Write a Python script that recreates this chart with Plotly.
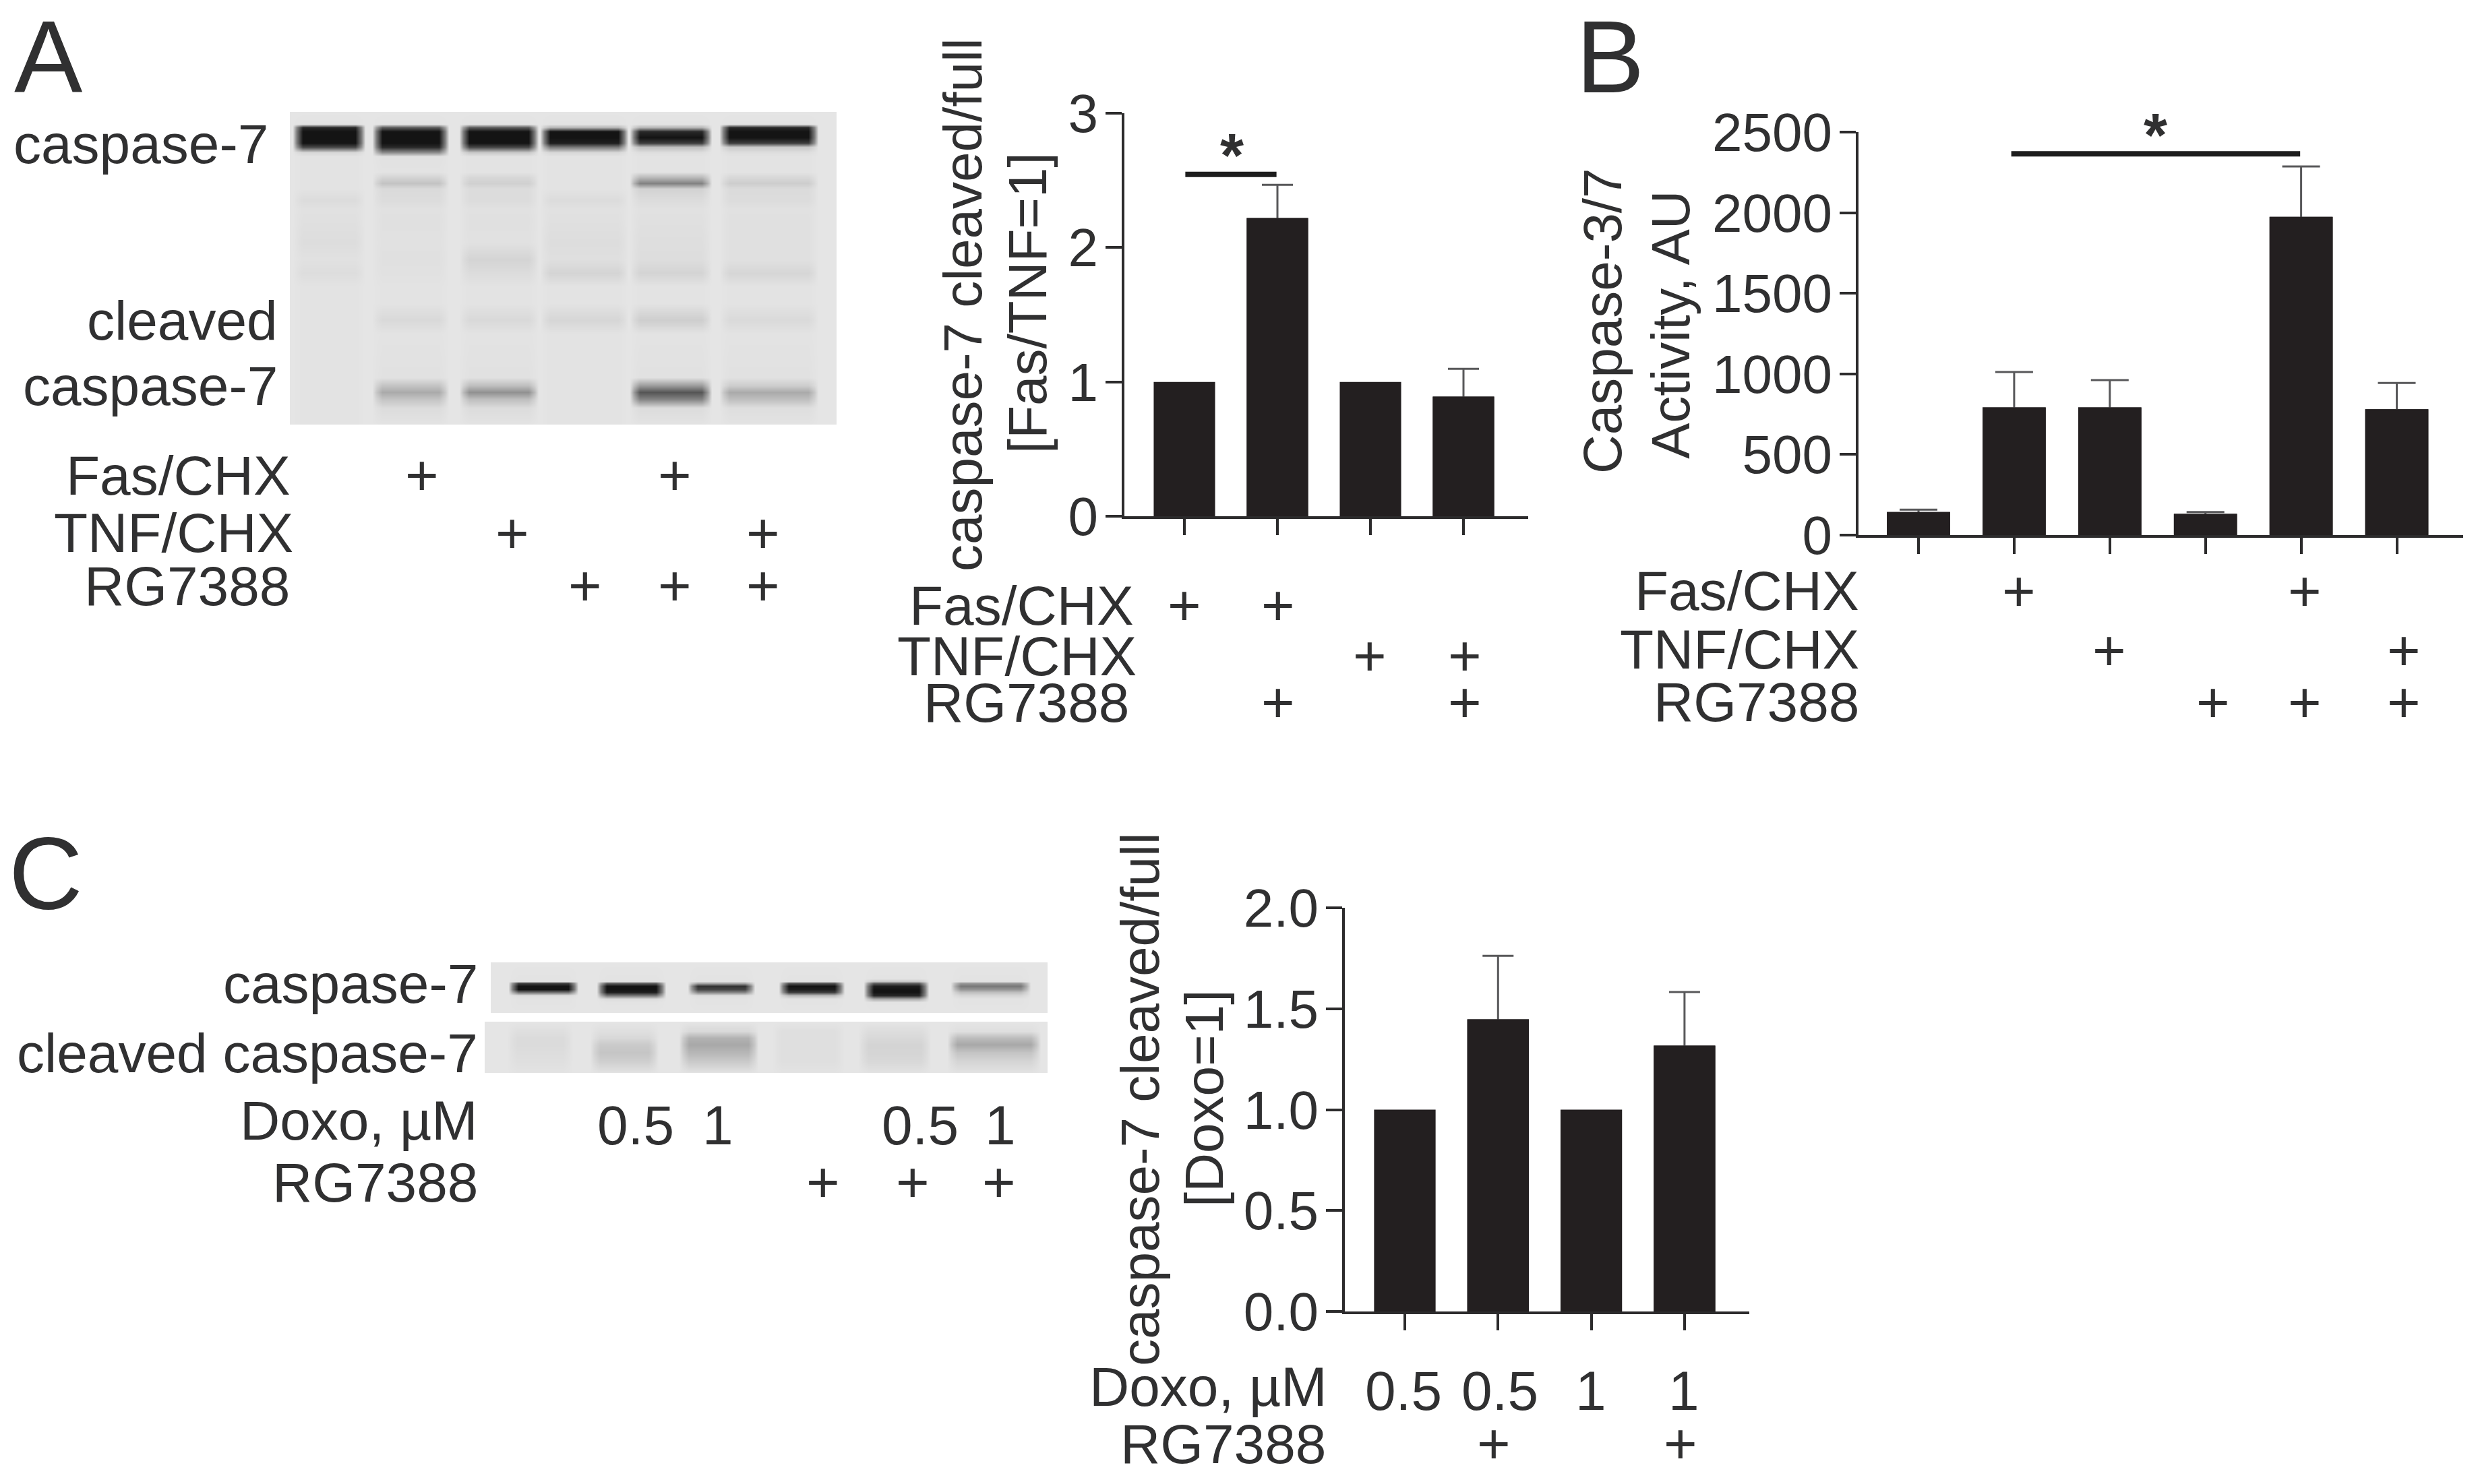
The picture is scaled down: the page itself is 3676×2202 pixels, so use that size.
import plotly.graph_objects as go

W, H = 3676, 2202
FONT = "Liberation Sans"
TXT = "#303031"
AX = "#2c2b2c"
BAR = "#231f20"
ERR = "#58585a"

# ---------- bar chart data ----------
a_values = [1.0, 2.22, 1.0, 0.89]
a_err = [None, 0.247, None, 0.208]
a_fas = [1, 1, 0, 0]
a_tnf = [0, 0, 1, 1]
a_rg = [0, 1, 0, 1]
a_sig_x = [0.01, 0.99]
a_sig_y = [2.545, 2.545]

b_values = [143, 792, 792, 132, 1974, 781]
b_err = [15, 220, 170, 11, 313, 163]
b_fas = [0, 1, 0, 0, 1, 0]
b_tnf = [0, 0, 1, 0, 0, 1]
b_rg = [0, 0, 0, 1, 1, 1]
b_sig_x = [0.97, 3.99]
b_sig_y = [2365, 2365]

c_values = [1.0, 1.447, 1.0, 1.317]
c_err = [None, 0.315, None, 0.266]
c_doxo = ["0.5", "0.5", "1", "1"]
c_rg = [0, 1, 0, 1]

# ---------- blot densitometry (grey level per lane) ----------
blot_a_lanes = [[437, 539], [555, 663], [684, 796], [804, 929], [937, 1053], [1070, 1211]]
blot_a_rows = [166, 184, 189, 195, 204, 212, 218, 226, 232, 255, 263, 272, 280, 297, 310, 325,
               360, 385, 405, 425, 450, 475, 495, 560, 572, 582, 592, 605, 630]
blot_a_grey = [
    [229, 229, 229, 229, 229, 229],
    [227, 227, 227, 227, 227, 227],
    [40, 90, 90, 180, 180, 40],
    [20, 20, 20, 20, 40, 20],
    [20, 20, 20, 20, 20, 20],
    [20, 20, 20, 30, 60, 60],
    [70, 40, 70, 120, 190, 200],
    [215, 140, 200, 215, 222, 222],
    [227, 225, 227, 227, 227, 227],
    [227, 227, 227, 227, 227, 227],
    [227, 212, 215, 227, 185, 216],
    [227, 195, 208, 227, 130, 205],
    [227, 218, 220, 227, 210, 219],
    [220, 220, 220, 220, 220, 220],
    [225, 225, 225, 225, 225, 225],
    [224, 224, 224, 224, 224, 224],
    [221, 225, 225, 221, 222, 224],
    [225, 224, 212, 223, 221, 224],
    [221, 225, 220, 212, 212, 214],
    [227, 227, 227, 227, 227, 227],
    [227, 227, 227, 227, 227, 227],
    [227, 217, 217, 214, 206, 218],
    [227, 227, 227, 227, 227, 227],
    [227, 225, 225, 227, 225, 225],
    [227, 195, 190, 227, 155, 205],
    [227, 170, 145, 227, 85, 170],
    [227, 195, 190, 227, 130, 190],
    [227, 220, 220, 227, 220, 222],
    [227, 227, 227, 227, 227, 227],
]
blot_c1_lanes = [[757, 855], [888, 985], [1023, 1117], [1158, 1250], [1284, 1375], [1413, 1526]]
blot_c1_rows = [1428, 1452, 1456, 1459, 1463, 1468, 1472, 1477, 1482, 1487, 1503]
blot_c1_grey = [
    [229, 229, 229, 229, 229, 229],
    [227, 227, 227, 227, 227, 227],
    [225, 225, 225, 225, 200, 225],
    [60, 90, 160, 80, 90, 150],
    [20, 20, 50, 20, 30, 120],
    [20, 20, 70, 30, 20, 150],
    [110, 30, 130, 60, 20, 190],
    [222, 120, 222, 190, 40, 215],
    [227, 220, 227, 227, 170, 227],
    [227, 227, 227, 227, 227, 227],
    [229, 229, 229, 229, 229, 229],
]
blot_c2_lanes = [[755, 847], [878, 974], [1010, 1122], [1148, 1250], [1276, 1378], [1408, 1541]]
blot_c2_rows = [1516, 1530, 1540, 1550, 1562, 1575, 1592]
blot_c2_grey = [
    [229, 229, 229, 229, 229, 229],
    [223, 223, 217, 223, 221, 223],
    [219, 216, 178, 223, 216, 188],
    [219, 202, 168, 223, 212, 168],
    [221, 197, 183, 223, 213, 197],
    [223, 207, 202, 223, 216, 213],
    [227, 227, 227, 227, 227, 227],
]

# ---------- text next to the blots ----------
a_blot_fas = [0, 1, 0, 0, 1, 0]
a_blot_tnf = [0, 0, 1, 0, 0, 1]
a_blot_rg = [0, 0, 0, 1, 1, 1]
a_blot_plus_x = [None, 626, 760, 868, 1001, 1132]
c_blot_doxo = ["", "0.5", "1", "", "0.5", "1"]
c_blot_rg = [0, 0, 0, 1, 1, 1]
c_blot_x = [None, 943, 1065, 1221, 1365, 1484]
c_blot_plus_x = [None, None, None, 1221, 1354, 1482]

fig = go.Figure()
anns = []


def fx(px):
    return px / W


def fy(py):
    return 1 - py / H


def text(s, x, y, size=82, anchor="right", angle=0, weight=None):
    anns.append(dict(text=s, x=fx(x), y=fy(y), xref="paper", yref="paper", showarrow=False,
                     xanchor=anchor, yanchor="middle", textangle=angle, borderpad=0, borderwidth=0,
                     font=dict(family=FONT, size=size, color=TXT, weight=weight)))


def bar_panel(idx, values, err, c0, spacing, ax_x, right, y_top, y_zero, ymax, ticks, fmt, cap):
    lw = 4
    sx = "x" if idx == 1 else f"x{idx}"
    sy = "y" if idx == 1 else f"y{idx}"
    left_px = ax_x + lw / 2
    bottom_px = y_zero - lw / 2
    xr = [(left_px - c0) / spacing, (right - c0) / spacing]
    xs = list(range(len(values)))
    # bars that carry an error bar are drawn first, so the solid bars on top hide its lower half
    with_err = [i for i in xs if err[i] is not None]
    fig.add_trace(go.Bar(x=with_err, y=[values[i] for i in with_err], width=0.66,
                         marker=dict(color=BAR, line=dict(width=0)),
                         error_y=dict(type="data", symmetric=True, array=[err[i] for i in with_err],
                                      color=ERR, thickness=3, width=cap),
                         xaxis=sx, yaxis=sy, showlegend=False, cliponaxis=False))
    fig.add_trace(go.Bar(x=xs, y=values, width=0.66, marker=dict(color=BAR, line=dict(width=0)),
                         xaxis=sx, yaxis=sy, showlegend=False, cliponaxis=False))
    fig.layout[f"xaxis{'' if idx == 1 else idx}"] = dict(
        domain=[fx(left_px), fx(right)], range=xr, anchor=sy, showgrid=False, zeroline=False, automargin=False,
        showline=True, linewidth=lw, linecolor=AX, ticks="outside", ticklen=24, tickwidth=4,
        tickcolor=AX, tickvals=xs, showticklabels=False)
    fig.layout[f"yaxis{'' if idx == 1 else idx}"] = dict(
        domain=[fy(bottom_px), fy(y_top)], range=[0, ymax], anchor=sx, showgrid=False, zeroline=False,
        automargin=False, showline=True, linewidth=lw, linecolor=AX, ticks="outside", ticklen=24, tickwidth=4,
        tickcolor=AX, tickvals=ticks, tickformat=fmt, ticklabelstandoff=-5,
        tickfont=dict(family=FONT, size=80, color=TXT))
    return sx, sy


def sig(sx, sy, xs, ys):
    fig.add_trace(go.Scatter(x=xs, y=ys, mode="lines", line=dict(color="#1d1d1d", width=8),
                             xaxis=sx, yaxis=sy, showlegend=False, cliponaxis=False))


def blot(idx, lanes, rows, grey, left, right):
    sx, sy = f"x{idx}", f"y{idx}"
    xs = [left]
    for l, r in lanes:
        xs += [l - 3, l + 3, l + 12, r - 12, r - 3, r + 3]
    xs.append(right)
    bg = 229
    z = []
    for row in grey:
        line = [bg]
        for v in row:
            mid = (bg + v) / 2
            line += [bg, mid, v, v, mid, bg]
        line.append(bg)
        z.append(line)
    fig.add_trace(go.Heatmap(x=xs, y=rows, z=z, zmin=0, zmax=255, zsmooth="best", showscale=False,
                             colorscale=[[0, "rgb(0,0,0)"], [1, "rgb(255,255,255)"]],
                             xaxis=sx, yaxis=sy, hoverinfo="skip"))
    fig.layout[f"xaxis{idx}"] = dict(domain=[fx(left), fx(right)], range=[left, right], visible=False,
                                     anchor=sy, automargin=False)
    fig.layout[f"yaxis{idx}"] = dict(domain=[fy(rows[-1]), fy(rows[0])], range=[rows[-1], rows[0]],
                                     visible=False, anchor=sx, automargin=False)


# ---------- bar panels ----------
sx, sy = bar_panel(1, a_values, a_err, 1757, 138, 1666, 2267, 168, 768, 3, [0, 1, 2, 3], "d", 23)
sig(sx, sy, a_sig_x, a_sig_y)
sx, sy = bar_panel(2, b_values, b_err, 2846, 141.9, 2755, 3654, 196, 796, 2500,
                   [0, 500, 1000, 1500, 2000, 2500], "d", 28)
sig(sx, sy, b_sig_x, b_sig_y)
sx, sy = bar_panel(3, c_values, c_err, 2084, 138.3, 1993, 2595, 1347, 1948, 2, [0, 0.5, 1, 1.5, 2], ".1f", 23)

# ---------- blots ----------
blot(4, blot_a_lanes, blot_a_rows, blot_a_grey, 430, 1241)
blot(5, blot_c1_lanes, blot_c1_rows, blot_c1_grey, 728, 1554)
blot(6, blot_c2_lanes, blot_c2_rows, blot_c2_grey, 719, 1554)

# ---------- panel letters ----------
text("A", 72, 84, size=152, anchor="center")
text("B", 2388, 84, size=152, anchor="center")
text("C", 68, 1296, size=152, anchor="center")

# ---------- y titles ----------
text("caspase-7 cleaved/full", 1428, 452, size=80, anchor="center", angle=-90)
text("[Fas/TNF=1]", 1524, 450, size=80, anchor="center", angle=-90)
text("Caspase-3/7", 2378, 476, size=80, anchor="center", angle=-90)
text("Activity, AU", 2478, 482, size=80, anchor="center", angle=-90)
text("caspase-7 cleaved/full", 1691, 1631, size=80, anchor="center", angle=-90)
text("[Doxo=1]", 1786, 1630, size=80, anchor="center", angle=-90)

# ---------- blot labels ----------
text("caspase-7", 398, 213)
text("cleaved", 412, 475)
text("caspase-7", 412, 572)
text("caspase-7", 709, 1459)
text("cleaved caspase-7", 709, 1562)


def plus_row(flags, pos, y):
    for f, p in zip(flags, pos):
        if f:
            text("+", p, y, size=85, anchor="center")


# panel A blot table
text("Fas/CHX", 431, 706)
text("TNF/CHX", 435, 790)
text("RG7388", 430, 869)
plus_row(a_blot_fas, a_blot_plus_x, 705)
plus_row(a_blot_tnf, a_blot_plus_x, 791)
plus_row(a_blot_rg, a_blot_plus_x, 870)

# panel A chart table
a_px = [1757, 1896, 2032, 2173]
text("Fas/CHX", 1682, 898)
text("TNF/CHX", 1686, 973)
text("RG7388", 1675, 1043)
plus_row(a_fas, a_px, 898)
plus_row(a_tnf, a_px, 973)
plus_row(a_rg, a_px, 1043)

# panel B chart table
text("Fas/CHX", 2758, 876)
text("TNF/CHX", 2758, 963)
text("RG7388", 2758, 1041)
b_px_top = [2846, 2995, 3129, 3283, 3419, 3566]
plus_row(b_fas, b_px_top, 877)
plus_row(b_tnf, b_px_top, 965)
plus_row(b_rg, b_px_top, 1042)

# panel C blot table
text("Doxo, µM", 709, 1662)
text("RG7388", 709, 1755)
for s, p in zip(c_blot_doxo, c_blot_x):
    if s:
        text(s, p, 1669, anchor="center")
plus_row(c_blot_rg, c_blot_plus_x, 1754)

# panel C chart table
c_px = [2082, 2225, 2360, 2498]
text("Doxo, µM", 1969, 2057)
text("RG7388", 1967, 2142)
for s, p in zip(c_doxo, c_px):
    text(s, p, 2063, anchor="center")
plus_row(c_rg, [2082, 2216, 2360, 2493], 2142)

# ---------- significance stars ----------
text("*", 1827, 231, size=90, anchor="center", weight="bold")
text("*", 3197, 201, size=90, anchor="center", weight="bold")

fig.update_layout(width=W, height=H, autosize=False, margin=dict(l=0, r=0, t=0, b=0, pad=0),
                  paper_bgcolor="white", plot_bgcolor="rgba(0,0,0,0)", annotations=anns,
                  showlegend=False, barmode="overlay", font=dict(family=FONT, color=TXT))
fig.write_html("out.html", config={"displayModeBar": False},
               post_script="document.body.style.margin='0';document.documentElement.style.overflow='hidden';")
